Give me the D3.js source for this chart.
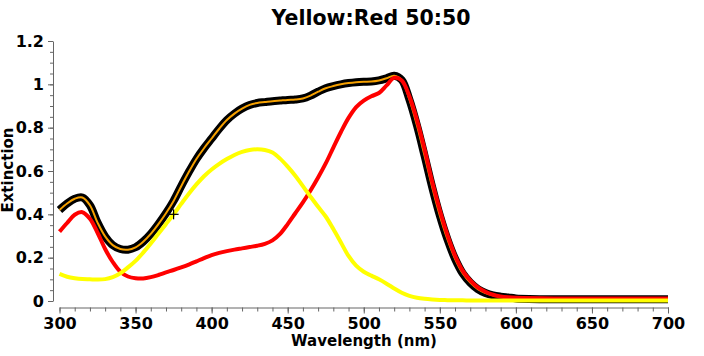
<!DOCTYPE html>
<html>
<head>
<meta charset="utf-8">
<script src="https://cdn.jsdelivr.net/npm/d3@7"></script>
<style>
  body { margin: 0; background: #fff; }
  svg text { font-family: "DejaVu Sans", sans-serif; font-weight: bold; fill: #000; }
  .axis path, .axis line { stroke: #666; }
</style>
</head>
<body>
<div id="chart"></div>
<script>
// Wavelength grid (nm)
const wavelengths = [
  300, 305, 310, 315, 320, 325, 330, 335, 340, 345,
  350, 355, 360, 365, 370, 375, 380, 385, 390, 395,
  400, 405, 410, 415, 420, 425, 430, 435, 440, 445,
  450, 455, 460, 465, 470, 475, 480, 485, 490, 495,
  500, 505, 510, 515, 520, 525, 530, 535, 540, 545,
  550, 555, 560, 565, 570, 575, 580, 585, 590, 595,
  600, 625, 650, 675, 700
];

// 50:50 mixture (black line with orange core)
const mixValues = [
  0.420, 0.450, 0.472, 0.478, 0.442, 0.362, 0.298, 0.258, 0.240, 0.237,
  0.248, 0.274, 0.310, 0.355, 0.405, 0.462, 0.530, 0.595, 0.655, 0.705,
  0.750, 0.795, 0.835, 0.865, 0.888, 0.905, 0.914, 0.918, 0.922, 0.925,
  0.928, 0.930, 0.935, 0.948, 0.966, 0.982, 0.992, 1.000, 1.006, 1.010,
  1.012, 1.013, 1.018, 1.028, 1.040, 1.020, 0.930, 0.810, 0.670, 0.525,
  0.395, 0.285, 0.195, 0.128, 0.085, 0.055, 0.037, 0.026, 0.020, 0.016,
  0.012, 0.008, 0.008, 0.008, 0.008
];

// Red dye
const redValues = [
  0.320, 0.360, 0.398, 0.410, 0.380, 0.315, 0.240, 0.180, 0.135, 0.113,
  0.105, 0.104, 0.110, 0.120, 0.132, 0.143, 0.155, 0.168, 0.183, 0.198,
  0.212, 0.222, 0.230, 0.237, 0.243, 0.249, 0.255, 0.264, 0.280, 0.310,
  0.355, 0.405, 0.455, 0.510, 0.570, 0.635, 0.708, 0.780, 0.845, 0.895,
  0.925, 0.945, 0.960, 0.995, 1.030, 1.018, 0.945, 0.835, 0.700, 0.550,
  0.420, 0.305, 0.210, 0.140, 0.095, 0.063, 0.043, 0.029, 0.021, 0.017,
  0.015, 0.012, 0.012, 0.012, 0.012
];

// Yellow dye
const yellowValues = [
  0.125, 0.112, 0.105, 0.101, 0.100, 0.099, 0.101, 0.110, 0.128, 0.155,
  0.185, 0.223, 0.265, 0.310, 0.355, 0.400, 0.448, 0.495, 0.538, 0.576,
  0.607, 0.633, 0.655, 0.674, 0.688, 0.697, 0.700, 0.697, 0.685, 0.657,
  0.620, 0.578, 0.530, 0.482, 0.435, 0.390, 0.332, 0.270, 0.208, 0.163,
  0.135, 0.117, 0.100, 0.080, 0.058, 0.038, 0.024, 0.015, 0.010, 0.007,
  0.005, 0.004, 0.003, 0.003, 0.002, 0.002, 0.002, 0.002, 0.002, 0.002,
  0.002, 0.002, 0.002, 0.002, 0.002
];

const xTicks = [300, 350, 400, 450, 500, 550, 600, 650, 700];
const yTicks = [0, 0.2, 0.4, 0.6, 0.8, 1, 1.2];
const cursorPoint = [375, 0.40];

const width = 704, height = 356;

const svg = d3.select('#chart').append('svg')
    .attr('width', width)
    .attr('height', height);

const x = d3.scaleLinear().domain([300, 700]).range([59.5, 668]);
const y = d3.scaleLinear().domain([0, 1.2]).range([301, 41]);

// y axis: minor then major ticks
svg.append('g')
    .attr('class', 'axis')
    .attr('transform', 'translate(53,0)')
    .call(d3.axisLeft(y).tickValues(d3.range(0, 1.2001, 0.05)).tickSize(3).tickFormat(''))
    .call(g => g.select('.domain').remove());

svg.append('g')
    .attr('class', 'axis')
    .attr('transform', 'translate(53,0)')
    .call(d3.axisLeft(y).tickValues(yTicks).tickSize(5).tickSizeOuter(0).tickPadding(4).tickFormat(d3.format('~g')))
    .call(g => g.selectAll('text').style('font-size', '16px'));

// x axis: minor then major ticks
svg.append('g')
    .attr('class', 'axis')
    .attr('transform', 'translate(0,307.5)')
    .call(d3.axisBottom(x).tickValues(d3.range(300, 701, 10)).tickSize(4).tickFormat(''))
    .call(g => g.select('.domain').remove());

svg.append('g')
    .attr('class', 'axis')
    .attr('transform', 'translate(0,307.5)')
    .call(d3.axisBottom(x).tickValues(xTicks).tickSize(6).tickSizeOuter(0).tickPadding(4))
    .call(g => g.selectAll('text').style('font-size', '16px'));

// lines
const line = d3.line()
    .x(d => x(d[0]))
    .y(d => y(d[1]))
    .curve(d3.curveCatmullRom.alpha(0.5));

const mix = d3.zip(wavelengths, mixValues);
const red = d3.zip(wavelengths, redValues);
const yellow = d3.zip(wavelengths, yellowValues);

svg.append('path').datum(mix).attr('d', line)
    .attr('fill', 'none').attr('stroke', '#000').attr('stroke-width', 8)
    .attr('stroke-linejoin', 'round');
svg.append('path').datum(mix).attr('d', line)
    .attr('fill', 'none').attr('stroke', '#f5a000').attr('stroke-width', 2);
svg.append('path').datum(red).attr('d', line)
    .attr('fill', 'none').attr('stroke', '#ff0000').attr('stroke-width', 4);
svg.append('path').datum(yellow).attr('d', line)
    .attr('fill', 'none').attr('stroke', '#ffff00').attr('stroke-width', 4);

// cursor cross
const cx = x(cursorPoint[0]), cy = y(cursorPoint[1]);
svg.append('line').attr('x1', cx - 5).attr('x2', cx + 5).attr('y1', cy).attr('y2', cy)
    .attr('stroke', '#000').attr('stroke-width', 1.2);
svg.append('line').attr('x1', cx).attr('x2', cx).attr('y1', cy - 5).attr('y2', cy + 5)
    .attr('stroke', '#000').attr('stroke-width', 1.2);

// title and axis labels
svg.append('text')
    .attr('x', 371).attr('y', 25)
    .style('text-anchor', 'middle')
    .style('font-size', '20.5px')
    .text('Yellow:Red 50:50');

svg.append('text')
    .attr('x', 364).attr('y', 346)
    .style('text-anchor', 'middle')
    .style('font-size', '15px')
    .text('Wavelength (nm)');

svg.append('text')
    .attr('transform', 'translate(13,170) rotate(-90)')
    .style('text-anchor', 'middle')
    .style('font-size', '15px')
    .text('Extinction');
</script>
</body>
</html>
